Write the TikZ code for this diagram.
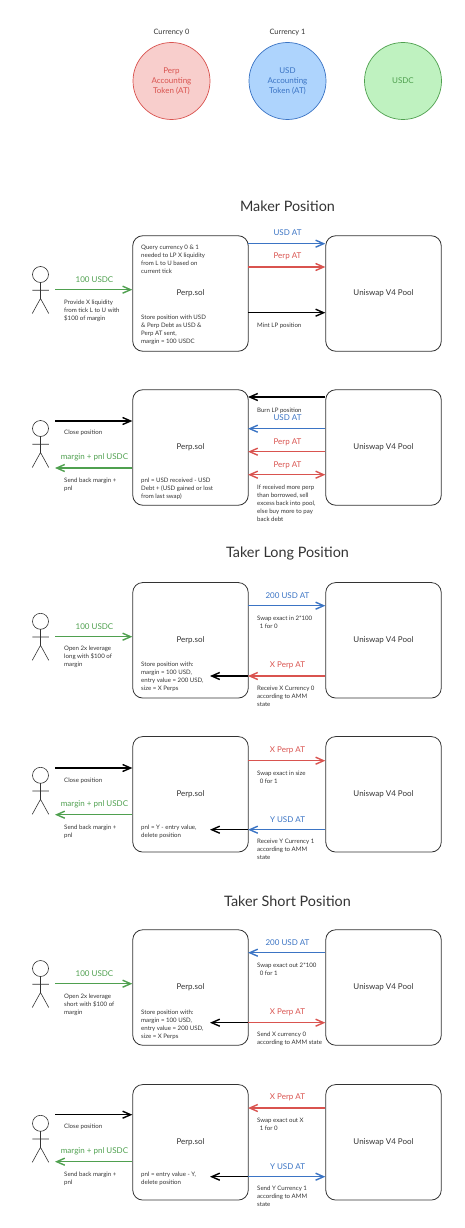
\documentclass[tikz,border=0pt]{standalone}
\usepackage{fontspec}
\setmainfont{Lato}
\usetikzlibrary{arrows.meta}
\usetikzlibrary{positioning}
\definecolor{atRed}{HTML}{D9534F}
\definecolor{atBlue}{HTML}{3B74C4}
\definecolor{atGreen}{HTML}{4FA04F}
\definecolor{fillRed}{HTML}{F8CECC}
\definecolor{fillBlue}{HTML}{AED4FD}
\definecolor{fillGreen}{HTML}{BFF2C0}
\definecolor{inkGrey}{HTML}{333333}

\begin{document}
\begin{tikzpicture}[x=1pt,y=-1pt,
  >={Straight Barb[length=8pt,width=7pt]},
  box node/.style={rectangle,rounded corners=10pt,draw=inkGrey,line width=0.8pt,minimum width=115.5pt,minimum height=115.5pt,inner sep=0pt,text=inkGrey,font=\fontsize{8}{9}\selectfont},
  token node/.style={circle,draw,line width=0.7pt,minimum size=77pt,inner sep=0pt,align=center,font=\fontsize{8}{10}\selectfont},
  note text/.style={anchor=north west,yshift=-1.5pt,inner sep=0pt,align=left,text=inkGrey,font=\fontsize{6.1}{8}\selectfont},
  head text/.style={inner sep=0pt,text=inkGrey,font=\fontsize{7.4}{8}\selectfont},
  flow label/.style={inner sep=0pt,yshift=-0.7pt,font=\fontsize{8}{9}\selectfont},
  title text/.style={inner sep=0pt,text=inkGrey,font=\fontsize{14.4}{16}\selectfont},
  arrow line/.style={->,line width=1.4pt},
  actor man/.pic={
    \draw[inkGrey,line width=0.6pt] (0,0) circle (8pt) (0,8) -- (0,24) (-8.25,15.7) -- (8.25,15.7)
      (-8.25,39) -- (0,24) -- (8.25,39);
  }]
  \useasboundingbox (0,0) rectangle (464,1228);

  % tokens
  \node[token node,fill=fillRed,draw=atRed,text=atRed] (perp) at (171.5,81) {Perp\\Accounting\\Token (AT)};
  \node[token node,fill=fillBlue,draw=atBlue,text=atBlue] (usd) at (287.5,81) {USD\\Accounting\\Token (AT)};
  \node[token node,fill=fillGreen,draw=atGreen,text=atGreen] (usdc) at (403,81) {USDC};
  \node[head text] (cur0) at (171.5,32.8) {Currency 0};
  \node[head text] (cur1) at (287.5,32.8) {Currency 1};

  \node[title text] (maker) at (287.5,206) {Maker Position};
  \node[title text] (long) at (287.5,553.8) {Taker Long Position};
  \node[title text] (short) at (287.5,900.8) {Taker Short Position};

  % one contract, one pool and one user per row
  \foreach \row/\ymid in {1/293.5,2/447.5,3/640.3,4/794.3,5/987.5,6/1142.3} {
    \node[box node] (p\row) at (190.5,\ymid) {Perp.sol};
    \node[box node] (u\row) at (383.5,\ymid) {Uniswap V4 Pool};
    \pic at (40.5,\ymid-19) {actor man};
  }

  % maker open
  \coordinate (a1) at (55,289.7);
  \coordinate (b1) at (248,243.7);
  \coordinate (c1) at (248,267);
  \coordinate (d1) at (248,312.7);
  \draw[arrow line,atGreen] (a1) -- (a1 -| p1.west);
  \draw[arrow line,atBlue] (b1) -- (b1 -| u1.west);
  \draw[arrow line,atRed] (c1) -- (c1 -| u1.west);
  \draw[arrow line,black] (d1) -- (d1 -| u1.west);
  \node[flow label,text=atGreen] (l1a) at (94.5,279) {100 USDC};
  \node[flow label,text=atBlue] (l1b) at (287.5,232) {USD AT};
  \node[flow label,text=atRed] (l1c) at (287.5,255.3) {Perp AT};
  \node[note text] (n1a) at (64,298) {Provide X liquidity\\from tick L to U with\\\$100 of margin};
  \node[note text] (n1b) at (141,243.7) {Query currency 0 \& 1\\needed to LP X liquidity\\from L to U based on\\current tick};
  \node[note text] (n1c) at (141,313.7) {Store position with USD\\\& Perp Debt as USD \&\\Perp AT sent,\\margin = 100 USDC};
  \node[note text] (n1d) at (257,321) {Mint LP position};

  % maker close
  \coordinate (a2) at (55,421);
  \coordinate (e2) at (55,468);
  \coordinate (b2) at (248,397);
  \coordinate (c2) at (248,428.7);
  \coordinate (d2) at (248,451.7);
  \coordinate (f2) at (248,474.7);
  \draw[arrow line,black] (a2) -- (a2 -| p2.west);
  \draw[arrow line,atGreen] (e2 -| p2.west) -- (e2);
  \draw[arrow line,black] (b2 -| u2.west) -- (b2);
  \draw[arrow line,atBlue] (c2 -| u2.west) -- (c2);
  \draw[arrow line,atRed] (d2 -| u2.west) -- (d2);
  \draw[arrow line,atRed,<->] (f2) -- (f2 -| u2.west);
  \node[flow label,text=atGreen] (l2a) at (94.5,456.7) {margin + pnl USDC};
  \node[flow label,text=atBlue] (l2b) at (287.5,417) {USD AT};
  \node[flow label,text=atRed] (l2c) at (287.5,441.3) {Perp AT};
  \node[flow label,text=atRed] (l2d) at (287.5,464.3) {Perp AT};
  \node[note text] (n2a) at (64,428.7) {Close position};
  \node[note text] (n2b) at (64,476) {Send back margin +\\pnl};
  \node[note text] (n2c) at (141,476) {pnl = USD received - USD\\Debt + (USD gained or lost\\from last swap)};
  \node[note text] (n2d) at (257,406) {Burn LP position};
  \node[note text] (n2e) at (257,483) {If received more perp\\than borrowed, sell\\excess back into pool,\\else buy more to pay\\back debt};

  % long open
  \coordinate (a3) at (55,636.7);
  \coordinate (b3) at (248,605.7);
  \coordinate (c3) at (248,676);
  \coordinate (d3) at (210,676);
  \draw[arrow line,atGreen] (a3) -- (a3 -| p3.west);
  \draw[arrow line,atBlue] (b3) -- (b3 -| u3.west);
  \draw[arrow line,black] (c3) -- (d3);
  \draw[arrow line,atRed] (c3 -| u3.west) -- (c3);
  \node[flow label,text=atGreen] (l3a) at (94.5,626.3) {100 USDC};
  \node[flow label,text=atBlue] (l3b) at (287.5,595) {200 USD AT};
  \node[flow label,text=atRed] (l3c) at (287.5,664.3) {X Perp AT};
  \node[note text] (n3a) at (64,644.7) {Open 2x leverage\\long with \$100 of\\margin};
  \node[note text] (n3b) at (141,660.7) {Store position with:\\margin = 100 USD,\\entry value = 200 USD,\\size = X Perps};
  \node[note text] (n3c) at (257,614) {Swap exact in 2*100\\\ \,1 for 0};
  \node[note text] (n3d) at (257,684) {Receive X Currency 0\\according to AMM\\state};

  % long close
  \coordinate (a4) at (55,768);
  \coordinate (e4) at (55,814.7);
  \coordinate (b4) at (248,760.7);
  \coordinate (c4) at (248,829.7);
  \coordinate (d4) at (210,829.7);
  \draw[arrow line,black] (a4) -- (a4 -| p4.west);
  \draw[arrow line,atGreen] (e4 -| p4.west) -- (e4);
  \draw[arrow line,atRed] (b4) -- (b4 -| u4.west);
  \draw[arrow line,black] (c4) -- (d4);
  \draw[arrow line,atBlue] (c4 -| u4.west) -- (c4);
  \node[flow label,text=atGreen] (l4a) at (94.5,803.3) {margin + pnl USDC};
  \node[flow label,text=atRed] (l4b) at (287.5,749.3) {X Perp AT};
  \node[flow label,text=atBlue] (l4c) at (287.5,819) {Y USD AT};
  \node[note text] (n4a) at (64,776) {Close position};
  \node[note text] (n4b) at (64,823) {Send back margin +\\pnl};
  \node[note text] (n4c) at (141,823) {pnl = Y - entry value,\\delete position};
  \node[note text] (n4d) at (257,769) {Swap exact in size\\\ \,0 for 1};
  \node[note text] (n4e) at (257,837.7) {Receive Y Currency 1\\according to AMM\\state};

  % short open
  \coordinate (a5) at (55,983.7);
  \coordinate (b5) at (248,952.7);
  \coordinate (c5) at (248,1022.7);
  \coordinate (d5) at (210,1022.7);
  \draw[arrow line,atGreen] (a5) -- (a5 -| p5.west);
  \draw[arrow line,atBlue] (b5 -| u5.west) -- (b5);
  \draw[arrow line,black] (c5) -- (d5);
  \draw[arrow line,atRed] (c5) -- (c5 -| u5.west);
  \node[flow label,text=atGreen] (l5a) at (94.5,973.3) {100 USDC};
  \node[flow label,text=atBlue] (l5b) at (287.5,941.7) {200 USD AT};
  \node[flow label,text=atRed] (l5c) at (287.5,1011.3) {X Perp AT};
  \node[note text] (n5a) at (64,992) {Open 2x leverage\\short with \$100 of\\margin};
  \node[note text] (n5b) at (141,1008) {Store position with:\\margin = 100 USD,\\entry value = 200 USD,\\size = X Perps};
  \node[note text] (n5c) at (257,961) {Swap exact out 2*100\\\ \,0 for 1};
  \node[note text] (n5d) at (257,1030.7) {Send X currency 0\\according to AMM state};

  % short close
  \coordinate (a6) at (55,1114.7);
  \coordinate (e6) at (55,1161.7);
  \coordinate (b6) at (248,1108);
  \coordinate (c6) at (248,1176.7);
  \coordinate (d6) at (210,1176.7);
  \draw[arrow line,black] (a6) -- (a6 -| p6.west);
  \draw[arrow line,atGreen] (e6 -| p6.west) -- (e6);
  \draw[arrow line,atRed] (b6 -| u6.west) -- (b6);
  \draw[arrow line,black] (c6) -- (d6);
  \draw[arrow line,atBlue] (c6) -- (c6 -| u6.west);
  \node[flow label,text=atGreen] (l6a) at (94.5,1150.3) {margin + pnl USDC};
  \node[flow label,text=atRed] (l6b) at (287.5,1096.3) {X Perp AT};
  \node[flow label,text=atBlue] (l6c) at (287.5,1166.3) {Y USD AT};
  \node[note text] (n6a) at (64,1122.7) {Close position};
  \node[note text] (n6b) at (64,1170) {Send back margin +\\pnl};
  \node[note text] (n6c) at (141,1170) {pnl = entry value - Y,\\delete position};
  \node[note text] (n6d) at (257,1116) {Swap exact out X\\\ \,1 for 0};
  \node[note text] (n6e) at (257,1184.7) {Send Y Currency 1\\according to AMM\\state};
\end{tikzpicture}
\end{document}
